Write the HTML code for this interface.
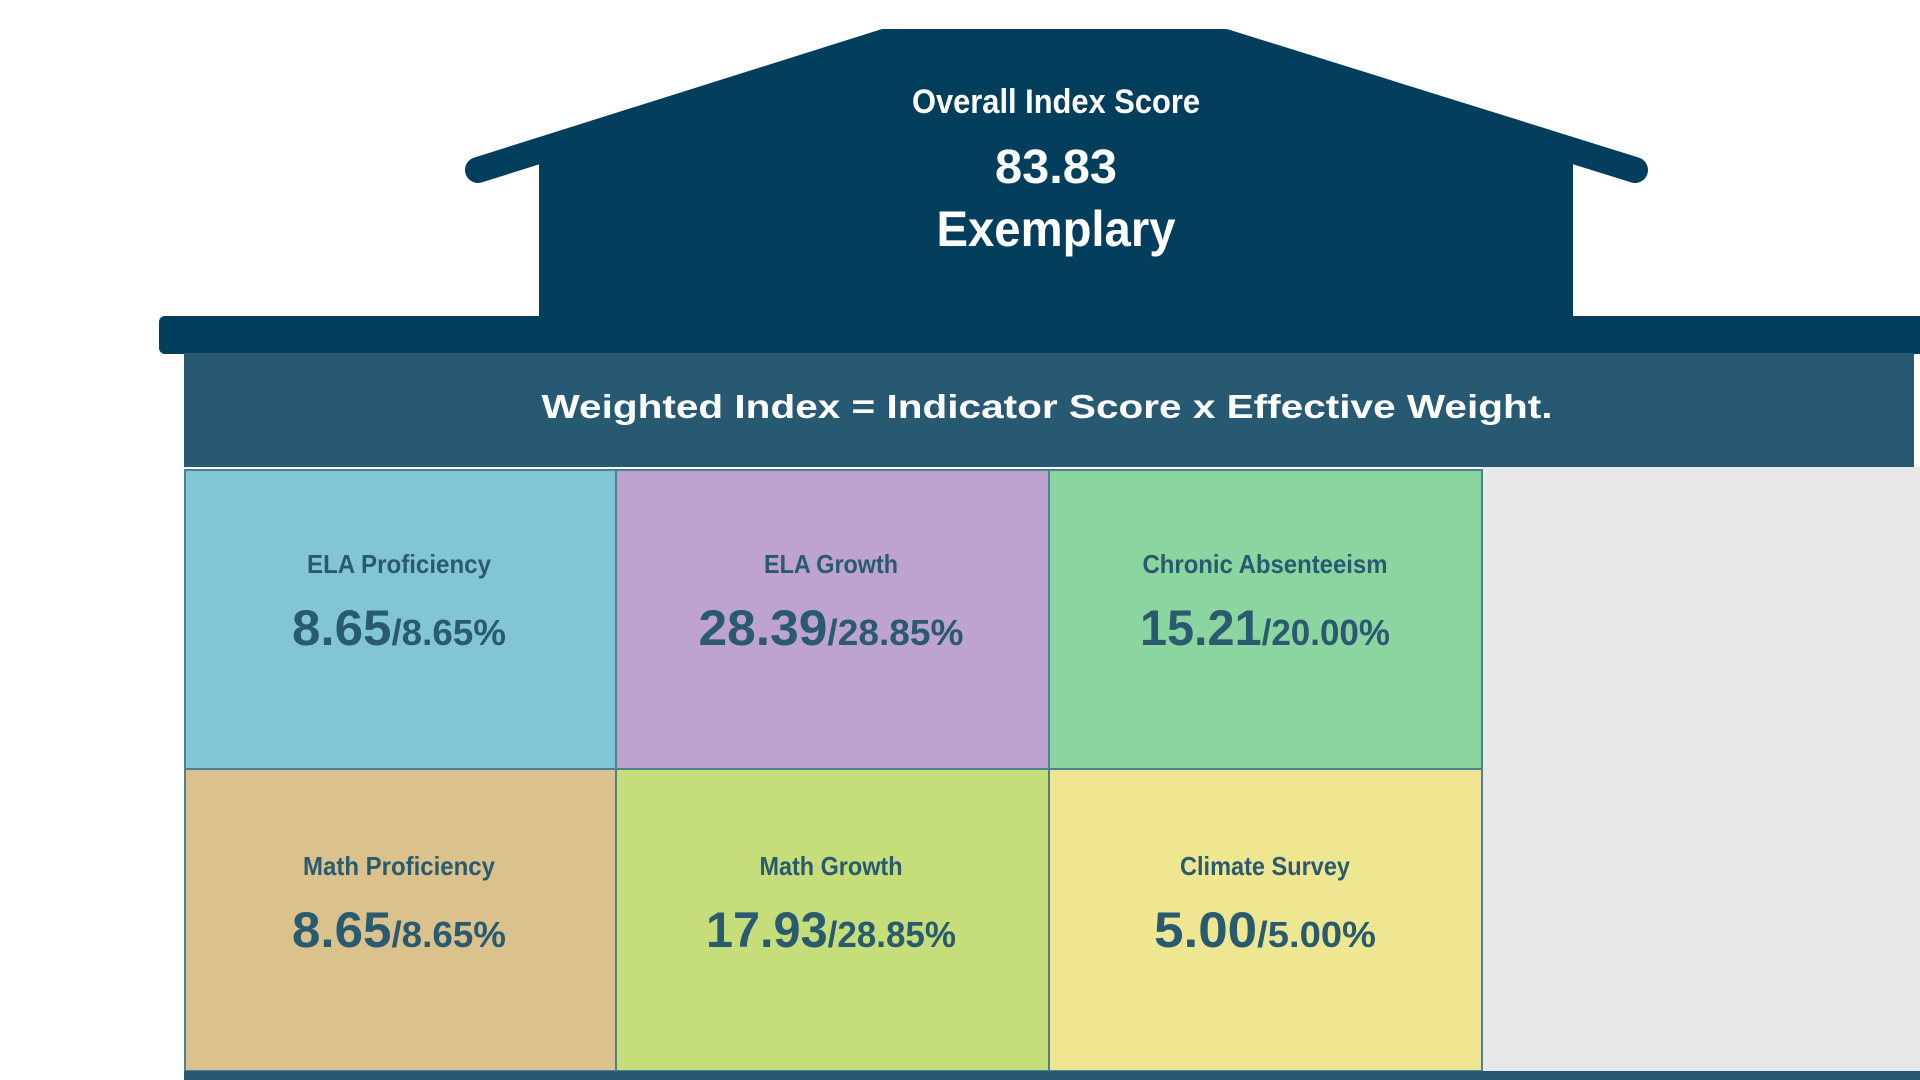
<!DOCTYPE html>
<html><head><meta charset="utf-8"><style>
html,body{margin:0;padding:0;background:#fff;width:1920px;height:1080px;overflow:hidden}
svg{display:block}
text{font-family:"Liberation Sans",sans-serif;text-anchor:middle}
</style></head><body>
<svg width="1920" height="1080" viewBox="0 0 1920 1080">
<polygon points="884,29 1225,29 1573,142 1573,353 539,353 539,142" fill="#033f5c"/>
<polyline points="478,170 884,42 1225,42 1635,170" fill="none" stroke="#033f5c" stroke-width="26" stroke-linecap="round" stroke-linejoin="round"/>
<rect x="159" y="316" width="1780" height="38" rx="6" fill="#033f5c"/>
<text x="1056" y="113" font-size="34" font-weight="bold" fill="#fff" textLength="288" lengthAdjust="spacingAndGlyphs">Overall Index Score</text>
<text x="1056" y="183" font-size="48" font-weight="bold" fill="#fff" textLength="122" lengthAdjust="spacingAndGlyphs">83.83</text>
<text x="1056" y="246" font-size="50" font-weight="bold" fill="#fff" textLength="239" lengthAdjust="spacingAndGlyphs">Exemplary</text>
<rect x="184" y="353" width="1730" height="114" fill="#275a72"/>
<text x="1047" y="418" font-size="33" font-weight="bold" fill="#fff" textLength="1011" lengthAdjust="spacingAndGlyphs">Weighted Index = Indicator Score x Effective Weight.</text>
<rect x="1482" y="467" width="438" height="606" fill="#e8e8e8"/>
<g stroke="#4f7f92" stroke-width="2">
<rect x="185" y="470" width="431" height="299" fill="#82c5d6"/>
<rect x="616" y="470" width="433" height="299" fill="#bda3cd"/>
<rect x="1049" y="470" width="433" height="299" fill="#8bd5a0"/>
<rect x="185" y="769" width="431" height="302" fill="#dbc28d"/>
<rect x="616" y="769" width="433" height="302" fill="#c6de7a"/>
<rect x="1049" y="769" width="433" height="302" fill="#eee690"/>
</g>
<rect x="184" y="1071" width="1736" height="9" fill="#275a72"/>
<g fill="#2a5a70" font-weight="bold">
<text x="399" y="573" font-size="26" textLength="184" lengthAdjust="spacingAndGlyphs">ELA Proficiency</text>
<text x="831" y="573" font-size="26" textLength="134" lengthAdjust="spacingAndGlyphs">ELA Growth</text>
<text x="1265" y="573" font-size="26" textLength="245" lengthAdjust="spacingAndGlyphs">Chronic Absenteeism</text>
<text x="399" y="875" font-size="26" textLength="192" lengthAdjust="spacingAndGlyphs">Math Proficiency</text>
<text x="831" y="875" font-size="26" textLength="143" lengthAdjust="spacingAndGlyphs">Math Growth</text>
<text x="1265" y="875" font-size="26" textLength="170" lengthAdjust="spacingAndGlyphs">Climate Survey</text>
</g>
<g fill="#2a5a70" font-weight="bold">
<text x="399" y="645" textLength="214" lengthAdjust="spacingAndGlyphs"><tspan font-size="50">8.65</tspan><tspan font-size="36">/8.65%</tspan></text>
<text x="831" y="645" textLength="265" lengthAdjust="spacingAndGlyphs"><tspan font-size="50">28.39</tspan><tspan font-size="36">/28.85%</tspan></text>
<text x="1265" y="645" textLength="250" lengthAdjust="spacingAndGlyphs"><tspan font-size="50">15.21</tspan><tspan font-size="36">/20.00%</tspan></text>
<text x="399" y="947" textLength="214" lengthAdjust="spacingAndGlyphs"><tspan font-size="50">8.65</tspan><tspan font-size="36">/8.65%</tspan></text>
<text x="831" y="947" textLength="250" lengthAdjust="spacingAndGlyphs"><tspan font-size="50">17.93</tspan><tspan font-size="36">/28.85%</tspan></text>
<text x="1265" y="947" textLength="222" lengthAdjust="spacingAndGlyphs"><tspan font-size="50">5.00</tspan><tspan font-size="36">/5.00%</tspan></text>
</g>
</svg>
</body></html>
